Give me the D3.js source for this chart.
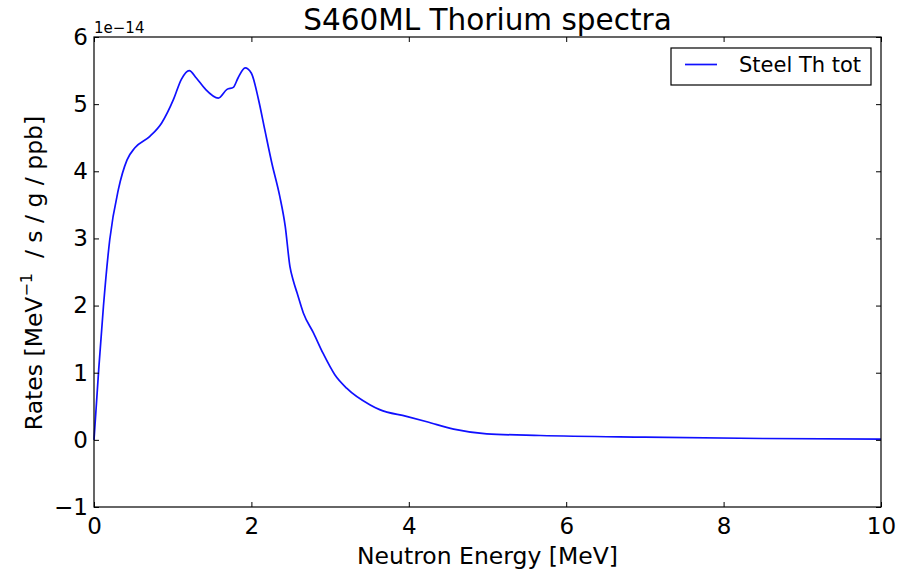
<!DOCTYPE html>
<html>
<head>
<meta charset="utf-8">
<script src="https://cdn.jsdelivr.net/npm/d3@7"></script>
<style>
  body { margin: 0; background: #fff; }
  svg { font-family: "DejaVu Sans", sans-serif; }
</style>
</head>
<body>
<svg id="chart" width="912" height="571"></svg>
<script>
// neutron energy in MeV, rate in units of 1e-14 MeV^-1 / s / g / ppb
const energy = [0, 0.06, 0.12, 0.2, 0.31, 0.42, 0.52, 0.71, 0.86, 1.01, 1.11, 1.21, 1.30, 1.41, 1.58, 1.69, 1.77, 1.83, 1.92, 2.00,
  2.09, 2.17, 2.26, 2.36, 2.43, 2.49, 2.53, 2.58, 2.66, 2.79, 2.91, 3.06, 3.21, 3.51, 3.63, 3.97, 4.23, 4.57, 4.99, 5.67, 7.0, 8.5, 10];
const rate = [0, 1.05, 1.99, 2.98, 3.73, 4.17, 4.35, 4.52, 4.72, 5.07, 5.37, 5.50, 5.39, 5.23, 5.09, 5.22, 5.25, 5.39, 5.54, 5.46,
  5.07, 4.62, 4.12, 3.63, 3.18, 2.58, 2.38, 2.19, 1.89, 1.59, 1.29, 0.97, 0.77, 0.52, 0.45, 0.35, 0.27, 0.16, 0.09, 0.065, 0.04, 0.02, 0.01];
const xTicks = [0, 2, 4, 6, 8, 10];
const yTicks = [-1, 0, 1, 2, 3, 4, 5, 6];
const seriesName = "Steel Th tot";

const svg = d3.select("#chart");
const plotLeft = 94, plotRight = 881, plotTop = 37, plotBottom = 507;

const x = d3.scaleLinear().domain([0, 10]).range([plotLeft, plotRight]);
const y = d3.scaleLinear().domain([-1, 6]).range([plotBottom, plotTop]);

// curve
const line = d3.line()
  .x((d, i) => x(energy[i]))
  .y(d => y(d))
  .curve(d3.curveMonotoneX);

svg.append("path")
  .datum(rate)
  .attr("d", line)
  .attr("fill", "none")
  .attr("stroke", "#1010ff")
  .attr("stroke-width", 1.7);

// inward ticks on all four sides (no labels on top/right)
const tickLen = 5;
svg.append("g").attr("transform", `translate(0,${plotBottom})`)
  .call(d3.axisBottom(x).tickValues(xTicks).tickSizeInner(-tickLen).tickSizeOuter(0).tickPadding(11))
  .call(g => g.select(".domain").remove())
  .call(g => g.selectAll("text").attr("font-size", 23).attr("font-family", "DejaVu Sans").attr("fill", "#000"));

svg.append("g").attr("transform", `translate(0,${plotTop})`)
  .call(d3.axisTop(x).tickValues(xTicks).tickSizeInner(-tickLen).tickSizeOuter(0).tickFormat(""))
  .call(g => g.select(".domain").remove());

svg.append("g").attr("transform", `translate(${plotLeft},0)`)
  .call(d3.axisLeft(y).tickValues(yTicks).tickSizeInner(-tickLen).tickSizeOuter(0).tickPadding(6)
    .tickFormat(d => d < 0 ? "\u2212" + Math.abs(d) : d))
  .call(g => g.select(".domain").remove())
  .call(g => g.selectAll("text").attr("font-size", 23).attr("font-family", "DejaVu Sans").attr("fill", "#000"));

svg.append("g").attr("transform", `translate(${plotRight},0)`)
  .call(d3.axisRight(y).tickValues(yTicks).tickSizeInner(-tickLen).tickSizeOuter(0).tickFormat(""))
  .call(g => g.select(".domain").remove());

// frame
svg.append("rect")
  .attr("x", plotLeft).attr("y", plotTop)
  .attr("width", plotRight - plotLeft).attr("height", plotBottom - plotTop)
  .attr("fill", "none").attr("stroke", "#000").attr("stroke-width", 1.2);

// offset text
svg.append("text")
  .attr("x", plotLeft).attr("y", 33)
  .attr("font-size", 15)
  .text("1e\u221214");

// title
svg.append("text")
  .attr("x", (plotLeft + plotRight) / 2).attr("y", 30)
  .attr("text-anchor", "middle")
  .attr("font-size", 29.5)
  .text("S460ML Thorium spectra");

// x label
svg.append("text")
  .attr("x", (plotLeft + plotRight) / 2).attr("y", 564)
  .attr("text-anchor", "middle")
  .attr("font-size", 23.5)
  .text("Neutron Energy [MeV]");

// y label
const yl = svg.append("text")
  .attr("transform", `translate(42,${(plotTop + plotBottom) / 2 + 1}) rotate(-90)`)
  .attr("text-anchor", "middle")
  .attr("font-size", 23.5)
  .attr("xml:space", "preserve");
yl.append("tspan").text("Rates [MeV");
yl.append("tspan").attr("font-size", 16).attr("dy", -10).text("\u22121");
yl.append("tspan").attr("dy", 10).text("  / s / g / ppb]");

// legend
const legend = svg.append("g").attr("transform", "translate(671,48)");
legend.append("rect")
  .attr("width", 200).attr("height", 37)
  .attr("fill", "#fff").attr("stroke", "#000").attr("stroke-width", 1.2);
legend.append("line")
  .attr("x1", 14).attr("x2", 46).attr("y1", 16.5).attr("y2", 16.5)
  .attr("stroke", "#1010ff").attr("stroke-width", 1.7);
legend.append("text")
  .attr("x", 68).attr("y", 24)
  .attr("font-size", 21)
  .text(seriesName);
</script>
</body>
</html>
